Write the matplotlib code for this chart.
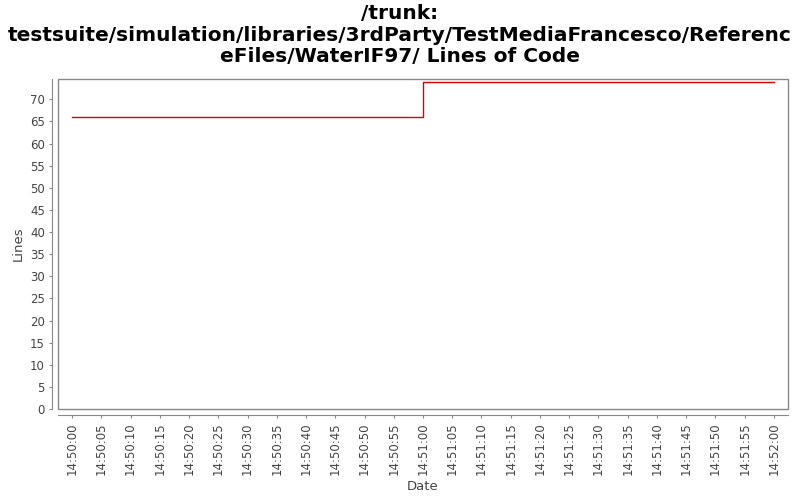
import matplotlib
matplotlib.use("Agg")
import matplotlib.pyplot as plt
import matplotlib.dates as mdates
from matplotlib.patches import Rectangle
import pandas as pd

times = ["2024-01-01 14:50:00", "2024-01-01 14:51:00", "2024-01-01 14:52:00"]
lines = [66, 74, 74]
title_lines = ["/trunk:", "testsuite/simulation/libraries/3rdParty/TestMediaFrancesco/Referenc",
               "eFiles/WaterIF97/ Lines of Code"]

t = pd.to_datetime(times)

fig = plt.figure(figsize=(8, 5), dpi=100)
ax = fig.add_axes([58/800, 1 - 409/500, (788-58)/800, (409-79)/500])

ax.step(t, lines, where="post", color="#dd0000", lw=1.0)

ax.set_ylim(0, 74.6)
span = (t[-1] - t[0])
pad = span * 0.02
ax.set_xlim(t[0] - pad, t[-1] + pad)

ax.xaxis.set_major_locator(mdates.SecondLocator(bysecond=range(0, 60, 5)))
ax.xaxis.set_major_formatter(mdates.DateFormatter("%H:%M:%S"))
ax.set_yticks(range(0, 75, 5))

for s in ["top", "right"]:
    ax.spines[s].set_visible(False)
for s in ["left", "bottom"]:
    ax.spines[s].set_position(("outward", 4))
    ax.spines[s].set_color("#888888")
ax.add_patch(Rectangle((0, 0), 1, 1, transform=ax.transAxes, fill=False,
                       edgecolor="#888888", lw=1.0, clip_on=False))

ax.tick_params(axis="both", colors="#888888", labelcolor="#444444",
               labelsize=8.5, length=2, width=0.8)
plt.setp(ax.get_xticklabels(), rotation=90)

ax.set_xlabel("Date", fontsize=9.5, color="#444444")
ax.set_ylabel("Lines", fontsize=9.5, color="#444444")

fig.text(0.5, 0.992, "\n".join(title_lines), ha="center", va="top",
         fontsize=14.5, fontweight="bold", linespacing=1.17)

fig.savefig("out.png", dpi=100)
